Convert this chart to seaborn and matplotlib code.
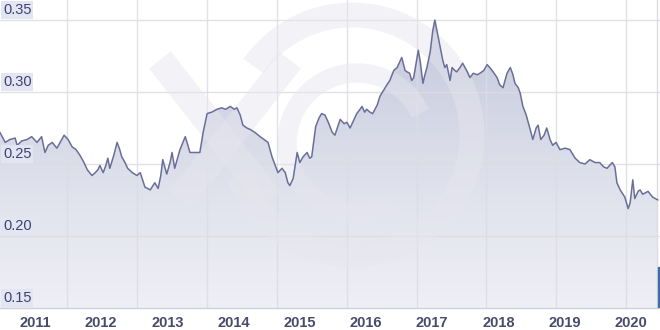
import numpy as np
import pandas as pd
import matplotlib
matplotlib.use("Agg")
import matplotlib.pyplot as plt
import seaborn as sns
import matplotlib.transforms as mtrans
from matplotlib.patches import Arc, Rectangle
from matplotlib.lines import Line2D
from matplotlib.colors import LinearSegmentedColormap

# ---- data (decimal year, rate) ----
dates = [2010.47, 2010.55, 2010.62, 2010.70, 2010.73, 2010.80, 2010.88, 2010.95, 2011.03, 2011.10,
         2011.15, 2011.20, 2011.26, 2011.33, 2011.38, 2011.44, 2011.50, 2011.56, 2011.62, 2011.68,
         2011.74, 2011.79, 2011.86, 2011.91, 2011.95, 2011.98, 2012.03, 2012.07, 2012.10, 2012.13,
         2012.19, 2012.24, 2012.28, 2012.31, 2012.36, 2012.40, 2012.47, 2012.54, 2012.59, 2012.66,
         2012.74, 2012.81, 2012.86, 2012.90, 2012.93, 2012.99, 2013.04, 2013.07, 2013.11, 2013.19,
         2013.27, 2013.31, 2013.34, 2013.42, 2013.49, 2013.54, 2013.60, 2013.67, 2013.75, 2013.82,
         2013.88, 2013.95, 2014.01, 2014.05, 2014.10, 2014.14, 2014.20, 2014.25, 2014.32, 2014.40,
         2014.46, 2014.52, 2014.58, 2014.63, 2014.67, 2014.73, 2014.78, 2014.82, 2014.85, 2014.90,
         2014.96, 2015.00, 2015.05, 2015.11, 2015.15, 2015.18, 2015.24, 2015.29, 2015.33, 2015.38,
         2015.43, 2015.49, 2015.53, 2015.58, 2015.61, 2015.67, 2015.71, 2015.76, 2015.82, 2015.86,
         2015.91, 2015.94, 2015.98, 2016.01, 2016.06, 2016.10, 2016.17, 2016.21, 2016.29, 2016.33,
         2016.36, 2016.42, 2016.47, 2016.51, 2016.54, 2016.59, 2016.62, 2016.66, 2016.69, 2016.72,
         2016.79, 2016.82, 2016.86, 2016.89, 2016.92, 2016.97, 2017.01, 2017.04, 2017.07, 2017.12,
         2017.16, 2017.19, 2017.22, 2017.27, 2017.30, 2017.34, 2017.37, 2017.42, 2017.46, 2017.53,
         2017.57, 2017.62, 2017.68, 2017.72, 2017.78, 2017.83, 2017.87, 2017.92, 2017.98, 2018.02,
         2018.07, 2018.13, 2018.18, 2018.22, 2018.25, 2018.30, 2018.33, 2018.37, 2018.42, 2018.48,
         2018.52, 2018.57, 2018.60, 2018.64, 2018.69, 2018.73, 2018.78, 2018.82, 2018.87, 2018.93,
         2019.01, 2019.08, 2019.16, 2019.23, 2019.31, 2019.38, 2019.46, 2019.53, 2019.59, 2019.64,
         2019.72, 2019.76, 2019.79, 2019.84, 2019.91, 2019.96, 2019.99, 2020.03, 2020.06, 2020.11,
         2020.14, 2020.18, 2020.26, 2020.33, 2020.41]
rates = [0.272, 0.265, 0.267, 0.268, 0.263, 0.266, 0.267, 0.269, 0.265, 0.269,
         0.258, 0.263, 0.265, 0.261, 0.265, 0.270, 0.267, 0.262, 0.260, 0.256,
         0.251, 0.246, 0.242, 0.244, 0.246, 0.249, 0.244, 0.249, 0.254, 0.247,
         0.256, 0.265, 0.260, 0.255, 0.251, 0.247, 0.244, 0.242, 0.244, 0.234,
         0.232, 0.237, 0.233, 0.242, 0.253, 0.243, 0.251, 0.258, 0.247, 0.260,
         0.269, 0.263, 0.258, 0.258, 0.258, 0.272, 0.285, 0.286, 0.288, 0.289,
         0.288, 0.290, 0.288, 0.289, 0.284, 0.277, 0.275, 0.274, 0.272, 0.269,
         0.267, 0.265, 0.255, 0.249, 0.244, 0.247, 0.244, 0.237, 0.235, 0.240,
         0.258, 0.251, 0.255, 0.258, 0.254, 0.255, 0.276, 0.282, 0.285, 0.284,
         0.279, 0.272, 0.270, 0.277, 0.281, 0.278, 0.279, 0.275, 0.281, 0.285,
         0.288, 0.290, 0.286, 0.288, 0.286, 0.285, 0.291, 0.297, 0.303, 0.306,
         0.308, 0.315, 0.317, 0.321, 0.324, 0.315, 0.314, 0.313, 0.308, 0.310,
         0.329, 0.321, 0.306, 0.312, 0.317, 0.328, 0.343, 0.350, 0.343, 0.331,
         0.322, 0.317, 0.319, 0.308, 0.317, 0.315, 0.314, 0.317, 0.320, 0.314,
         0.310, 0.313, 0.312, 0.313, 0.315, 0.319, 0.317, 0.314, 0.310, 0.305,
         0.303, 0.313, 0.317, 0.312, 0.306, 0.303, 0.299, 0.290, 0.284, 0.274,
         0.267, 0.275, 0.277, 0.267, 0.270, 0.275, 0.267, 0.263, 0.265, 0.260,
         0.261, 0.260, 0.254, 0.251, 0.250, 0.253, 0.251, 0.251, 0.248, 0.247,
         0.251, 0.248, 0.237, 0.232, 0.227, 0.219, 0.223, 0.239, 0.226, 0.231,
         0.232, 0.229, 0.231, 0.227, 0.225]
year_ticks = [2011, 2012, 2013, 2014, 2015, 2016, 2017, 2018, 2019, 2020]
year_labels = ["2011", "2012", "2013", "2014", "2015", "2016", "2017", "2018", "2019", "2020"]
y_ticks = [0.15, 0.20, 0.25, 0.30, 0.35]
y_labels = ["0.15", "0.20", "0.25", "0.30", "0.35"]

df = pd.DataFrame({"date": dates, "rate": rates})

sns.set_style("white")
plt.rcParams["font.family"] = ["Liberation Sans", "DejaVu Sans"]

W, H = 660, 330
fig = plt.figure(figsize=(W / 100, H / 100), dpi=100)
fig.patch.set_facecolor("white")
plot_bottom_px = 308
ax = fig.add_axes([0, (H - plot_bottom_px) / H, 1, plot_bottom_px / H])

px_per_year = 66.2
x_left = 2011 - 35 / px_per_year
x_right = x_left + W / px_per_year
y_bottom = 0.15
y_top = 0.15 + plot_bottom_px / 1440

# gradient area fill
poly = ax.fill_between(df["date"], df["rate"], y_bottom, facecolor="none", lw=0)
cmap = LinearSegmentedColormap.from_list("xefill", ["#eff0f6", "#dcdeea", "#c5c8dc"])
grad = np.linspace(0, 1, 256).reshape(-1, 1)
im = ax.imshow(grad, cmap=cmap, aspect="auto", origin="lower",
               extent=[x_left, x_right, y_bottom, 0.35], zorder=1)
im.set_clip_path(poly.get_paths()[0], transform=ax.transData)

# grid lines
grid_c = "#dcdce4"
for v in y_ticks[1:]:
    ax.axhline(v, color=grid_c, lw=1, alpha=0.85, zorder=2)
first_vgrid = x_left + 67 / px_per_year
vstep = 69.9 / px_per_year
for k in range(9):
    ax.axvline(first_vgrid + k * vstep, color=grid_c, lw=1, alpha=0.85, zorder=2)
ax.axvline(x_left + 657 / px_per_year, color=grid_c, lw=1, zorder=2)

# watermark (faint XE logo), under the line
wm_c = "#e6e6ee"
wm_a = 0.45
cx, cy = 352, H - 135
ax.add_artist(Arc((cx, cy), 240, 240, theta1=200, theta2=505, transform=None,
                  color=wm_c, lw=18, alpha=wm_a, zorder=3))
ax.add_artist(Arc((cx + 5, cy - 8), 140, 140, theta1=25, theta2=300, transform=None,
                  color=wm_c, lw=14, alpha=wm_a, zorder=3))
for (xa, ya, xb, yb) in [(160, 60, 270, 200), (290, 60, 180, 200)]:
    ax.add_artist(Line2D([xa, xb], [H - ya, H - yb], transform=None, color=wm_c,
                         lw=20, alpha=wm_a, solid_capstyle="butt", zorder=3))

# line
sns.lineplot(data=df, x="date", y="rate", color="#6a6f9a", lw=1.1, ax=ax, zorder=4)

ax.set_xlim(x_left, x_right)
ax.set_ylim(y_bottom, y_top)

# y labels inside plot
trans = mtrans.blended_transform_factory(ax.transAxes, ax.transData)
trans = mtrans.offset_copy(trans, fig=fig, x=3, y=3, units="dots")
for v, lab in zip(y_ticks, y_labels):
    ax.text(0, v, lab, transform=trans, ha="left", va="bottom", fontsize=10.5,
            color="#3e4272", zorder=6,
            bbox=dict(boxstyle="square,pad=0.12", fc="#e4e5f2", ec="none"))

# x axis
ax.set_xticks(year_ticks)
ax.set_xticklabels(year_labels)
ax.set_xticks([y + 0.42 for y in year_ticks[:-1]], minor=True)
ax.tick_params(axis="x", which="major", length=0, pad=6, labelsize=10.5,
               labelcolor="#474b6c")
ax.tick_params(axis="x", which="minor", direction="in", length=3, color="#c4c4d0", width=1)
for lab in ax.get_xticklabels():
    lab.set_fontweight("bold")
ax.set_yticks([])
ax.set_xlabel("")
ax.set_ylabel("")
for s in ["top", "left", "right"]:
    ax.spines[s].set_visible(False)
ax.spines["bottom"].set_color("#cfd0da")
ax.spines["bottom"].set_linewidth(1)
ax.set_facecolor("white")

# small blue marker at right edge
ax.add_artist(Rectangle((658, H - plot_bottom_px), 2, 41, transform=None,
                        color="#3d6fa8", zorder=7))

fig.savefig("out.png", dpi=100, facecolor="white")
